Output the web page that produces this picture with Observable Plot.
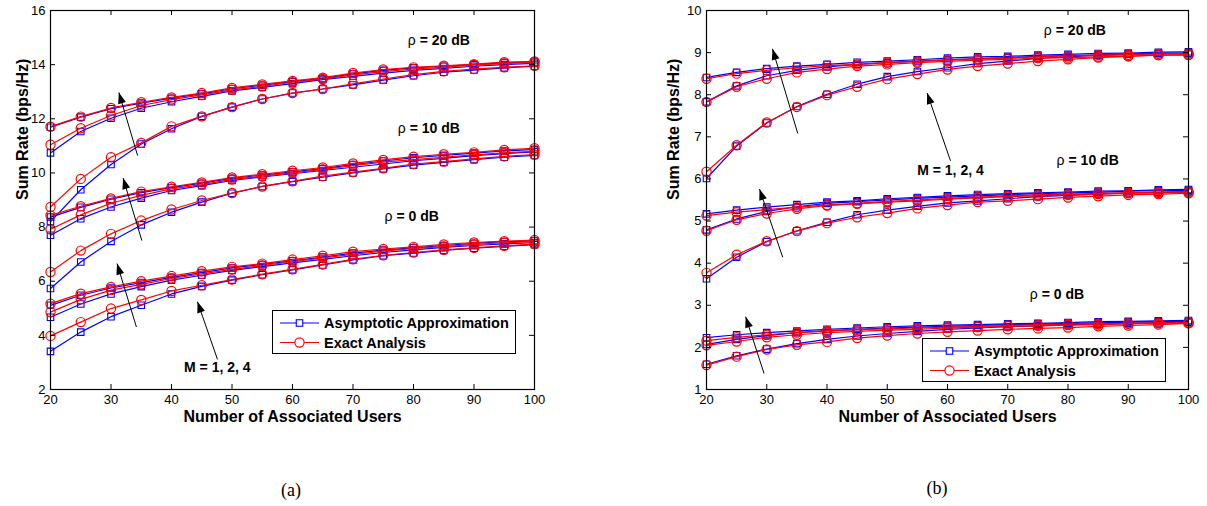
<!DOCTYPE html>
<html><head><meta charset="utf-8">
<script src="https://cdn.jsdelivr.net/npm/d3@7"></script>
<script src="https://cdn.jsdelivr.net/npm/@observablehq/plot@0.6"></script>
<style>
body{margin:0;background:#fff;width:1207px;height:506px;position:relative;overflow:hidden;font-family:"Liberation Sans",Arial,sans-serif}
.panel{position:absolute;top:0}
.legend{position:absolute;border:1.3px solid #000;background:#fff;box-sizing:border-box;width:244px;height:44px}
.cap{position:absolute;font-family:"Liberation Serif","Times New Roman",serif;font-size:18px;transform:translate(-50%,-50%)}
</style></head><body>
<div id="a" class="panel" style="left:0px"></div>
<div id="b" class="panel" style="left:655px"></div>
<div id="legA" class="legend" style="left:272px;top:310px"></div>
<div id="legB" class="legend" style="left:922px;top:338px"></div>
<div class="cap" style="left:291px;top:490px">(a)</div>
<div class="cap" style="left:937px;top:488px">(b)</div>
<script>
// ---------- data ----------
const users = [20,25,30,35,40,45,50,55,60,65,70,75,80,85,90,95,100];
const xTicks = [20,30,40,50,60,70,80,90,100];
const aYTicks = [2,4,6,8,10,12,14,16];
const bYTicks = [1,2,3,4,5,6,7,8,9,10];
const legendLabels = ["Asymptotic Approximation","Exact Analysis"];
const xTitle = "Number of Associated Users";
const yTitle = "Sum Rate (bps/Hz)";

// panel (a)
const a20_M4_asym  = [11.69,12.06,12.37,12.58,12.76,12.92,13.11,13.24,13.37,13.49,13.66,13.79,13.88,13.94,14.00,14.07,14.10];
const a20_M4_exact = [11.71,12.08,12.40,12.61,12.79,12.95,13.14,13.27,13.40,13.52,13.69,13.82,13.90,13.96,14.02,14.09,14.12];
const a20_M2_asym  = [10.74,11.53,12.02,12.39,12.63,12.83,13.03,13.16,13.30,13.45,13.57,13.69,13.79,13.86,13.94,14.00,14.05];
const a20_M2_exact = [11.04,11.65,12.12,12.49,12.71,12.88,13.07,13.20,13.35,13.47,13.62,13.74,13.84,13.90,13.99,14.04,14.09];
const a20_M1_asym  = [8.20,9.38,10.31,11.07,11.63,12.09,12.43,12.73,12.95,13.10,13.25,13.43,13.59,13.72,13.80,13.88,13.94];
const a20_M1_exact = [8.74,9.78,10.58,11.11,11.72,12.09,12.43,12.73,12.95,13.10,13.29,13.47,13.63,13.75,13.84,13.90,13.96];
const a10_M4_asym  = [8.37,8.73,9.03,9.27,9.46,9.62,9.80,9.92,10.04,10.16,10.31,10.44,10.56,10.65,10.73,10.81,10.87];
const a10_M4_exact = [8.43,8.77,9.06,9.31,9.49,9.65,9.83,9.95,10.08,10.20,10.35,10.48,10.60,10.69,10.76,10.85,10.91];
const a10_M2_asym  = [7.70,8.31,8.74,9.07,9.35,9.53,9.72,9.85,9.97,10.09,10.21,10.33,10.45,10.54,10.64,10.71,10.78];
const a10_M2_exact = [7.92,8.45,8.88,9.17,9.41,9.57,9.76,9.88,10.00,10.13,10.27,10.40,10.49,10.58,10.67,10.74,10.80];
const a10_M1_asym  = [5.73,6.71,7.47,8.08,8.55,8.92,9.25,9.50,9.68,9.84,10.00,10.15,10.29,10.39,10.49,10.58,10.65];
const a10_M1_exact = [6.34,7.13,7.75,8.24,8.65,8.98,9.26,9.50,9.69,9.88,10.03,10.17,10.33,10.42,10.52,10.61,10.68];
const a0_M4_asym   = [5.11,5.48,5.75,5.95,6.14,6.32,6.49,6.62,6.75,6.89,7.04,7.15,7.23,7.32,7.40,7.46,7.49];
const a0_M4_exact  = [5.17,5.54,5.79,6.00,6.19,6.37,6.53,6.65,6.80,6.94,7.09,7.19,7.27,7.36,7.43,7.48,7.52];
const a0_M2_asym   = [4.67,5.16,5.53,5.80,6.04,6.22,6.40,6.54,6.68,6.81,6.94,7.06,7.16,7.25,7.32,7.38,7.42];
const a0_M2_exact  = [4.86,5.33,5.67,5.88,6.10,6.27,6.44,6.58,6.72,6.86,6.99,7.11,7.21,7.28,7.36,7.42,7.46];
const a0_M1_asym   = [3.41,4.12,4.69,5.11,5.53,5.81,6.04,6.24,6.42,6.60,6.79,6.94,7.04,7.14,7.22,7.29,7.35];
const a0_M1_exact  = [3.98,4.49,4.99,5.31,5.64,5.85,6.06,6.26,6.44,6.62,6.81,6.96,7.06,7.16,7.23,7.31,7.37];

// panel (b)
const b20_M4_asym  = [8.41,8.53,8.62,8.68,8.72,8.77,8.80,8.83,8.87,8.90,8.91,8.94,8.96,8.98,8.99,9.01,9.02];
const b20_M4_exact = [8.38,8.50,8.58,8.64,8.69,8.72,8.76,8.79,8.82,8.85,8.87,8.90,8.92,8.94,8.95,8.97,8.98];
const b20_M2_asym  = [7.83,8.21,8.45,8.58,8.66,8.72,8.76,8.80,8.83,8.86,8.88,8.91,8.93,8.94,8.96,8.98,8.98];
const b20_M2_exact = [7.83,8.19,8.38,8.53,8.61,8.68,8.72,8.76,8.79,8.82,8.84,8.87,8.88,8.90,8.92,8.94,8.94];
const b20_M1_asym  = [6.01,6.78,7.33,7.72,8.01,8.25,8.43,8.55,8.64,8.74,8.80,8.86,8.90,8.94,8.96,8.98,8.99];
const b20_M1_exact = [6.17,6.80,7.34,7.71,7.99,8.19,8.37,8.49,8.60,8.68,8.74,8.80,8.84,8.88,8.91,8.94,8.95];
const b10_M4_asym  = [5.17,5.26,5.33,5.39,5.45,5.48,5.53,5.56,5.60,5.63,5.65,5.67,5.69,5.71,5.72,5.74,5.75];
const b10_M4_exact = [5.13,5.21,5.27,5.33,5.38,5.42,5.47,5.50,5.54,5.57,5.60,5.62,5.64,5.66,5.67,5.69,5.70];
const b10_M2_asym  = [4.79,5.05,5.23,5.34,5.42,5.46,5.50,5.54,5.57,5.60,5.63,5.65,5.67,5.68,5.71,5.72,5.73];
const b10_M2_exact = [4.77,5.03,5.18,5.29,5.37,5.41,5.45,5.48,5.52,5.55,5.58,5.60,5.62,5.64,5.66,5.67,5.68];
const b10_M1_asym  = [3.63,4.14,4.51,4.77,4.97,5.15,5.26,5.35,5.43,5.48,5.53,5.58,5.61,5.64,5.67,5.68,5.70];
const b10_M1_exact = [3.77,4.20,4.52,4.76,4.95,5.09,5.19,5.30,5.38,5.45,5.48,5.52,5.56,5.59,5.62,5.64,5.66];
const b0_M4_asym   = [2.23,2.30,2.35,2.39,2.43,2.46,2.49,2.51,2.53,2.54,2.56,2.57,2.59,2.61,2.62,2.63,2.64];
const b0_M4_exact  = [2.16,2.24,2.30,2.35,2.39,2.42,2.44,2.46,2.48,2.50,2.52,2.54,2.55,2.56,2.57,2.58,2.59];
const b0_M2_asym   = [2.07,2.19,2.28,2.35,2.39,2.43,2.46,2.48,2.50,2.52,2.54,2.55,2.57,2.58,2.60,2.61,2.61];
const b0_M2_exact  = [2.05,2.14,2.24,2.30,2.35,2.38,2.41,2.43,2.46,2.48,2.50,2.51,2.53,2.54,2.56,2.57,2.58];
const b0_M1_asym   = [1.60,1.80,1.96,2.09,2.19,2.27,2.33,2.38,2.43,2.46,2.49,2.51,2.54,2.55,2.57,2.58,2.60];
const b0_M1_exact  = [1.58,1.78,1.95,2.06,2.13,2.22,2.28,2.33,2.37,2.40,2.43,2.45,2.47,2.50,2.52,2.54,2.57];

// annotations (data coordinates)
const aArrowX1 = [34.4, 35.1, 34.2, 47.6];
const aArrowY1 = [10.64, 7.50, 4.31, 3.11];
const aArrowX2 = [31.3, 32.0, 31.0, 44.3];
const aArrowY2 = [12.97, 9.81, 6.65, 5.24];
const aRhoText = ["= 20 dB", "= 10 dB", "= 0 dB"];
const aRhoX = [79.05, 77.4, 75.2];
const aRhoY = [14.89, 11.63, 8.40];
const aMText = ["M = 1, 2, 4"];
const aMX = [42.07];
const aMY = [2.81];

const bArrowX1 = [35.15, 32.65, 29.55, 60.5];
const bArrowY1 = [7.08, 4.14, 1.38, 6.43];
const bArrowX2 = [30.95, 28.8, 26.5, 56.62];
const bArrowY2 = [9.09, 5.76, 2.73, 8.04];
const bRhoText = ["= 20 dB", "= 10 dB", "= 0 dB"];
const bRhoX = [75.98, 78.1, 73.66];
const bRhoY = [9.52, 6.44, 3.25];
const bMText = ["M = 1, 2, 4"];
const bMX = [54.97];
const bMY = [6.20];

// ---------- build ----------
const BLUE = "#0000ff", RED = "#ff0000";
const headSymbol = {draw(ctx){ ctx.moveTo(0,0); ctx.lineTo(-4,11); ctx.lineTo(4,11); ctx.closePath(); }};

function buildPanel(cfg){
  const {width,height,ml,mr,mt,mb,yDomain,yTicks,series,ax1,ay1,ax2,ay2,rhoText,rhoX,rhoY,mText,mX,mY,yLabelX} = cfg;
  const pw = width-ml-mr, ph = height-mt-mb;
  const kx = pw/(100-20), ky = ph/(yDomain[1]-yDomain[0]);
  const rows = [];
  series.forEach(s => s.values.forEach((v,i) => rows.push({x:users[i], y:v, id:s.id, kind:s.kind})));
  const asym = rows.filter(r => r.kind === "asym");
  const exact = rows.filter(r => r.kind === "exact");
  const arrows = ax1.map((_,i) => ({x1:ax1[i], y1:ay1[i], x2:ax2[i], y2:ay2[i]}));
  const angle = d => Math.atan2((d.x2-d.x1)*kx, (d.y2-d.y1)*ky) * 180 / Math.PI;
  const rho = rhoText.map((t,i) => ({t, x:rhoX[i], y:rhoY[i]}));
  const mlab = mText.map((t,i) => ({t, x:mX[i], y:mY[i]}));
  return Plot.plot({
    width, height, marginLeft:ml, marginRight:mr, marginTop:mt, marginBottom:mb,
    x:{domain:[20,100], label:null},
    y:{domain:yDomain, label:null},
    style:{fontFamily:"'Liberation Sans', Arial, sans-serif", fontSize:"13px", background:"transparent", color:"#000", overflow:"visible"},
    marks:[
      Plot.line(asym, {x:"x", y:"y", z:"id", stroke:BLUE, strokeWidth:1.2}),
      Plot.dot(asym, {x:"x", y:"y", symbol:"square", r:3.67, stroke:BLUE, strokeWidth:1.1, fill:"none"}),
      Plot.line(exact, {x:"x", y:"y", z:"id", stroke:RED, strokeWidth:1.2}),
      Plot.dot(exact, {x:"x", y:"y", symbol:"circle", r:4.6, stroke:RED, strokeWidth:1.2, fill:"none"}),
      Plot.link(arrows, {x1:"x1", y1:"y1", x2:"x2", y2:"y2", stroke:"#000", strokeWidth:1}),
      Plot.dot(arrows, {x:"x2", y:"y2", symbol:headSymbol, r:3, fill:"#000", stroke:"none", rotate:angle}),
      Plot.text(rho, {x:"x", y:"y", text:() => "ρ", textAnchor:"start", fontSize:14, fill:"#000"}),
      Plot.text(rho, {x:"x", y:"y", text:"t", textAnchor:"start", dx:12, fontSize:14, fontWeight:"bold", fill:"#000"}),
      Plot.text(mlab, {x:"x", y:"y", text:"t", textAnchor:"start", fontSize:14, fontWeight:"bold", fill:"#000"}),
      Plot.tickY(yTicks, {y:d => d, insetRight:pw-5, stroke:"#000"}),
      Plot.tickY(yTicks, {y:d => d, insetLeft:pw-5, stroke:"#000"}),
      Plot.tickX(xTicks, {x:d => d, insetTop:ph-5, stroke:"#000"}),
      Plot.tickX(xTicks, {x:d => d, insetBottom:ph-5, stroke:"#000"}),
      Plot.frame({stroke:"#000", strokeWidth:1.2}),
      Plot.axisX(xTicks, {tickSize:0, tickPadding:5, label:null, fontSize:13}),
      Plot.axisY(yTicks, {tickSize:0, tickPadding:5, label:null, fontSize:13}),
      Plot.text([xTitle], {frameAnchor:"bottom", dy:32, fontSize:16, fontWeight:"bold", fill:"#000"}),
      Plot.text([yTitle], {frameAnchor:"left", rotate:-90, dx:yLabelX-ml, fontSize:16, fontWeight:"bold", fill:"#000"})
    ]
  });
}

function ser(id, asymVals, exactVals){
  return [{id:id+"a", kind:"asym", values:asymVals},{id:id+"e", kind:"exact", values:exactVals}];
}

const seriesA = [
  ...ser("20-1", a20_M1_asym, a20_M1_exact), ...ser("20-2", a20_M2_asym, a20_M2_exact), ...ser("20-4", a20_M4_asym, a20_M4_exact),
  ...ser("10-1", a10_M1_asym, a10_M1_exact), ...ser("10-2", a10_M2_asym, a10_M2_exact), ...ser("10-4", a10_M4_asym, a10_M4_exact),
  ...ser("0-1", a0_M1_asym, a0_M1_exact), ...ser("0-2", a0_M2_asym, a0_M2_exact), ...ser("0-4", a0_M4_asym, a0_M4_exact)
];
const seriesB = [
  ...ser("20-1", b20_M1_asym, b20_M1_exact), ...ser("20-2", b20_M2_asym, b20_M2_exact), ...ser("20-4", b20_M4_asym, b20_M4_exact),
  ...ser("10-1", b10_M1_asym, b10_M1_exact), ...ser("10-2", b10_M2_asym, b10_M2_exact), ...ser("10-4", b10_M4_asym, b10_M4_exact),
  ...ser("0-1", b0_M1_asym, b0_M1_exact), ...ser("0-2", b0_M2_asym, b0_M2_exact), ...ser("0-4", b0_M4_asym, b0_M4_exact)
];

document.getElementById("a").appendChild(buildPanel({
  width:560, height:430, ml:50, mr:26, mt:10, mb:41, yDomain:[2,16], yTicks:aYTicks, series:seriesA,
  ax1:aArrowX1, ay1:aArrowY1, ax2:aArrowX2, ay2:aArrowY2,
  rhoText:aRhoText, rhoX:aRhoX, rhoY:aRhoY, mText:aMText, mX:aMX, mY:aMY, yLabelX:22
}));
document.getElementById("b").appendChild(buildPanel({
  width:552, height:430, ml:51, mr:19, mt:10, mb:41, yDomain:[1,10], yTicks:bYTicks, series:seriesB,
  ax1:bArrowX1, ay1:bArrowY1, ax2:bArrowX2, ay2:bArrowY2,
  rhoText:bRhoText, rhoX:bRhoX, rhoY:bRhoY, mText:bMText, mX:bMX, mY:bMY, yLabelX:18
}));

// legends
function buildLegend(el){
  const svg = d3.select(el).append("svg").attr("width", 242).attr("height", 42)
    .style("display","block").style("overflow","visible");
  const rowsY = [12, 31.5];
  const colors = [BLUE, RED];
  legendLabels.forEach((lab, i) => {
    const g = svg.append("g");
    g.append("line").attr("x1", 7).attr("x2", 46).attr("y1", rowsY[i]).attr("y2", rowsY[i])
      .attr("stroke", colors[i]).attr("stroke-width", 1.2);
    if (i === 0) {
      g.append("rect").attr("x", 26.5-3.25).attr("y", rowsY[i]-3.25).attr("width", 6.5).attr("height", 6.5)
        .attr("fill", "#fff").attr("stroke", BLUE).attr("stroke-width", 1.1);
    } else {
      g.append("circle").attr("cx", 26.5).attr("cy", rowsY[i]).attr("r", 4.6)
        .attr("fill", "#fff").attr("stroke", RED).attr("stroke-width", 1.2);
    }
    g.append("text").attr("x", 51).attr("y", rowsY[i]).attr("dy", "0.36em")
      .attr("font-family", "'Liberation Sans', Arial, sans-serif").attr("font-size", 14.5)
      .attr("font-weight", "bold").attr("fill", "#000").text(lab);
  });
}
buildLegend(document.getElementById("legA"));
buildLegend(document.getElementById("legB"));
</script>
</body></html>
